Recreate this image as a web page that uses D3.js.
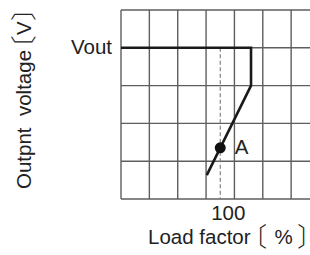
<!DOCTYPE html>
<html><head><meta charset="utf-8">
<script src="https://cdn.jsdelivr.net/npm/d3@7"></script>
<style>
html,body{margin:0;padding:0;background:#fff;}
svg{display:block;}
text{font-family:"Liberation Sans",Arial,"Noto Sans CJK JP",sans-serif;fill:#222;white-space:pre;}
.cjk{font-family:"Noto Sans CJK JP",sans-serif;font-feature-settings:"palt";font-weight:300;}
</style></head>
<body>
<svg id="c" width="310" height="255"></svg>
<script>
// Data
const xGrid = [30, 50, 70, 90, 110, 130, 150, 170];   // load factor grid lines (%)
const yGrid = [0, 1, 2, 3, 4, 5];                     // output voltage grid lines
const curveX = [30, 121.7, 121.7, 90.5];              // characteristic curve (load %)
const curveY = [4, 4, 3, 0.63];                       // output voltage
const pointA = {label: "A", x: 100, y: 1.355};
const refX = 100;                                     // dashed 100% marker
const xTickLabels = [{value: 100, text: "100"}];
const voutLevel = 4;
const xTitle = "Load factor";
const xUnit = "%";
const yTitle = "Outpnt  voltage";
const yUnit = "V";

const svg = d3.select("#c");
const x = d3.scaleLinear().domain([30, 170]).range([121, 319.5]);
const y = d3.scaleLinear().domain([0, 5]).range([199, 10]);

const g = svg.append("g");
// grid
g.selectAll("line.v").data(xGrid).join("line")
  .attr("x1", d => x(d)).attr("x2", d => x(d))
  .attr("y1", y(5)).attr("y2", y(0))
  .attr("stroke", "#5e5e5e").attr("stroke-width", 1.4);
g.selectAll("line.h").data(yGrid).join("line")
  .attr("x1", x(30)).attr("x2", x(170))
  .attr("y1", d => y(d)).attr("y2", d => y(d))
  .attr("stroke", "#5e5e5e").attr("stroke-width", 1.4);

// dashed reference line
g.append("line")
  .attr("x1", x(refX)).attr("x2", x(refX))
  .attr("y1", y(voutLevel)).attr("y2", y(0))
  .attr("stroke", "#777").attr("stroke-width", 1.1)
  .attr("stroke-dasharray", "4,2.5");

// curve
const pts = curveX.map((d, i) => [d, curveY[i]]);
g.append("path")
  .attr("d", d3.line().x(d => x(d[0])).y(d => y(d[1]))(pts))
  .attr("fill", "none").attr("stroke", "#1a1a1a").attr("stroke-width", 2.6)
  .attr("stroke-linejoin", "miter");

// point A
g.append("circle").attr("cx", x(pointA.x)).attr("cy", y(pointA.y)).attr("r", 5.5).attr("fill", "#111");
g.append("text").attr("x", x(pointA.x) + 14.5).attr("y", y(pointA.y) + 6)
  .attr("font-size", 20.5).text(pointA.label);

// Vout label
g.append("text").attr("x", 112).attr("y", y(voutLevel) + 6.5)
  .attr("text-anchor", "end").attr("font-size", 20.5).text("Vout");

// x tick labels
g.selectAll("text.xt").data(xTickLabels).join("text")
  .attr("x", d => x(d.value) + 8).attr("y", 220)
  .attr("text-anchor", "middle").attr("font-size", 20.5).text(d => d.text);

// x title
const xt = g.append("text").attr("x", 148).attr("y", 244).attr("font-size", 20.5);
xt.append("tspan").text(xTitle);
xt.append("tspan").attr("class", "cjk").attr("font-size", 26).attr("dy", 1.5).attr("dx", 3).text("〔");
xt.append("tspan").attr("dx", 8).attr("dy", -1.5).text(xUnit);
xt.append("tspan").attr("class", "cjk").attr("font-size", 26).attr("dy", 1.5).attr("dx", 5).text("〕");

// y title
const yt = g.append("text").attr("transform", "translate(31,189) rotate(-90)").attr("font-size", 20.5);
yt.append("tspan").text(yTitle);
yt.append("tspan").attr("class", "cjk").attr("font-size", 26).attr("dy", 1.5).attr("dx", 1).text("〔");
yt.append("tspan").attr("dx", 1).attr("dy", -1.5).text(yUnit);
yt.append("tspan").attr("class", "cjk").attr("font-size", 26).attr("dy", 1.5).attr("dx", 1).text("〕");
</script>
</body></html>
